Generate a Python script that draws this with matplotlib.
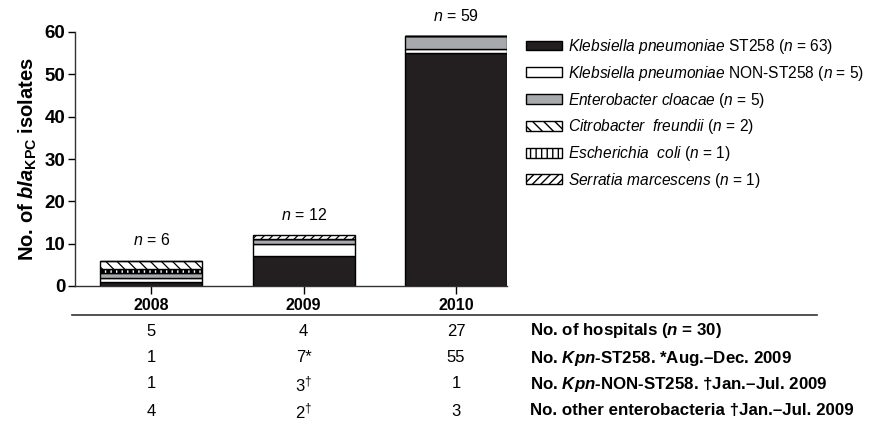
import matplotlib.pyplot as plt
from matplotlib import transforms
from matplotlib.lines import Line2D
from matplotlib.patches import Patch

plt.rcParams['font.family'] = ['Liberation Sans', 'DejaVu Sans']
plt.rcParams['mathtext.fontset'] = 'custom'
plt.rcParams['mathtext.rm'] = 'Liberation Sans'
plt.rcParams['mathtext.it'] = 'Liberation Sans:italic'
plt.rcParams['mathtext.bf'] = 'Liberation Sans:bold'
plt.rcParams['mathtext.bfit'] = 'Liberation Sans:bold:italic'

# isolates per year, by species
years = ['2008', '2009', '2010']
kpn_st258 = [1, 7, 55]
kpn_non_st258 = [1, 3, 1]
e_cloacae = [1, 1, 3]
e_coli = [1, 0, 0]
c_freundii = [2, 0, 0]
s_marcescens = [0, 1, 0]

hospitals = [5, 4, 27]
st258_marks = ['', '*', '']
non_st258_marks = ['', '\u2020', '']
other_marks = ['', '\u2020', '']

# name, values, face, hatch, hatch width
series = [
    (r'$\mathit{Klebsiella\ pneumoniae}$ ST258', kpn_st258, '#231f20', '', 1.0),
    (r'$\mathit{Klebsiella\ pneumoniae}$ NON-ST258', kpn_non_st258, 'white', '', 1.0),
    (r'$\mathit{Enterobacter\ cloacae}$', e_cloacae, '#a7a9ac', '', 1.0),
    (r'$\mathit{Escherichia\ \ coli}$', e_coli, 'white', '|||', 3.0),
    (r'$\mathit{Citrobacter\ \ freundii}$', c_freundii, 'white', '\\\\\\', 0.9),
    (r'$\mathit{Serratia\ marcescens}$', s_marcescens, 'white', '////', 0.9),
]
legend_order = [0, 1, 2, 4, 3, 5]

fig = plt.figure(figsize=(8.75, 4.37), dpi=100)
ax = fig.add_axes([75 / 875, 1 - 286 / 437, 432 / 875, 254 / 437])

x = list(range(len(years)))
bottom = [0] * len(years)
handles = []
for name, vals, face, hatch, hlw in series:
    ax.bar(x, vals, width=0.67, bottom=bottom, color=face, edgecolor='black',
           linewidth=1.0, hatch=hatch, hatch_linewidth=hlw, zorder=2)
    bottom = [b + v for b, v in zip(bottom, vals)]
    handles.append(Patch(facecolor=face, edgecolor='black', linewidth=1.0,
                         hatch=hatch, hatch_linewidth=hlw,
                         label=f'{name} ($\\mathit{{n}}$ = {sum(vals)})'))

for xi, total in zip(x, bottom):
    ax.annotate(f'$\\mathit{{n}}$ = {total}', (xi, total), xytext=(0, 9),
                textcoords='offset points', ha='center', va='bottom',
                fontsize=11.5, annotation_clip=False)

ax.set_xlim(-0.5, 2.335)
ax.set_ylim(0, 60)
ax.set_yticks(range(0, 61, 10))
ax.set_xticks(x)
ax.set_xticklabels(years, fontweight='bold', fontsize=11.5)
for lab in ax.get_yticklabels():
    lab.set_fontweight('bold')
    lab.set_fontsize(13.5)
ax.tick_params(axis='y', length=5, width=1, pad=2)
ax.tick_params(axis='x', length=6, width=1, pad=3)
ax.spines[['top', 'right']].set_visible(False)
ax.spines[['left', 'bottom']].set_linewidth(1)
ax.spines[['left', 'bottom']].set_color('#333333')
ax.set_ylabel(r'No. of $\mathbfit{bla}_{\mathbf{KPC}}$ isolates',
              fontweight='bold', fontsize=14.5, labelpad=4)

fig.legend([handles[i] for i in legend_order],
           [handles[i].get_label() for i in legend_order],
           loc='upper left', bbox_to_anchor=(526 / 875, 1 - 37 / 437),
           frameon=False, fontsize=11.2, handlelength=2.3, handleheight=0.6,
           handletextpad=0.4, labelspacing=0.5, borderpad=0,
           borderaxespad=0)

# counts table under the bars
other = [a + b + c + d for a, b, c, d in zip(e_cloacae, e_coli, c_freundii, s_marcescens)]
rows = [
    ([str(v) for v in hospitals],
     r'No. of hospitals ($\mathbfit{n}$ = 30)'),
    ([f'{v}{m}' for v, m in zip(kpn_st258, st258_marks)],
     r'No. $\mathbfit{Kpn}$-ST258. *Aug.–Dec. 2009'),
    ([f'${v}^{{\\dagger}}$' if m else str(v) for v, m in zip(kpn_non_st258, non_st258_marks)],
     r'No. $\mathbfit{Kpn}$-NON-ST258. †Jan.–Jul. 2009'),
    ([f'${v}^{{\\dagger}}$' if m else str(v) for v, m in zip(other, other_marks)],
     'No. other enterobacteria †Jan.–Jul. 2009'),
]
trans = transforms.blended_transform_factory(ax.transData, fig.transFigure)
row_y = [331, 358, 384, 411]
for (cells, label), ypx in zip(rows, row_y):
    yf = 1 - ypx / 437
    for xi, cell in zip(x, cells):
        fig.text(xi, yf, cell, transform=trans, ha='center', va='center',
                 fontsize=12)
    fig.text(530 / 875, yf, label, ha='left', va='center', fontsize=12.2,
             fontweight='bold')

fig.add_artist(Line2D([72 / 875, 817 / 875], [1 - 315 / 437] * 2,
                      color='#333333', linewidth=1.2))

fig.savefig('out.png', dpi=100)
